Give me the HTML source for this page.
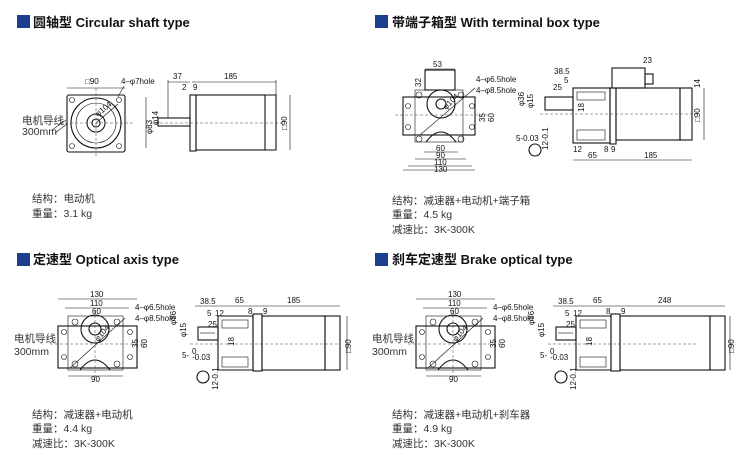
<!DOCTYPE html>
<html><head><meta charset="utf-8"><style>
body{margin:0;background:#fff}
svg{display:block}
.t{font-family:"Liberation Sans","Noto Sans CJK SC",sans-serif;font-weight:bold;font-size:13px;fill:#111}
.d{font-family:"Liberation Sans",sans-serif;font-size:8px;fill:#111}
.i{font-family:"Liberation Sans","Noto Sans CJK SC",sans-serif;font-size:10.5px;fill:#333}
.k{stroke:#111;stroke-width:1.1;fill:none}
.g{stroke:#111;stroke-width:.6;fill:none}
.c{stroke:#444;stroke-width:.5;stroke-dasharray:3 2;fill:none}
</style></head><body>
<svg width="750" height="459" viewBox="0 0 750 459" xmlns="http://www.w3.org/2000/svg">
<defs>
<g id="front">
 <!-- geared front view: plate -->
 <rect x="58" y="326" width="79" height="42" class="k"/>
 <rect x="68" y="316" width="55" height="54" class="g"/>
 <circle cx="95" cy="329" r="14" class="k"/><circle cx="95" cy="329" r="6" class="k"/>
 <path d="M80,370 Q95,350 110,370" class="k"/>
 <circle cx="75" cy="322" r="3" class="g"/><circle cx="117" cy="322" r="3" class="g"/>
 <circle cx="75" cy="364" r="3" class="g"/><circle cx="117" cy="364" r="3" class="g"/>
 <circle cx="64" cy="332" r="2.5" class="g"/><circle cx="130" cy="332" r="2.5" class="g"/>
 <circle cx="64" cy="357" r="2.5" class="g"/><circle cx="130" cy="357" r="2.5" class="g"/>
 <line x1="50" y1="344" x2="145" y2="344" class="c"/>
 <line x1="95" y1="310" x2="95" y2="380" class="c"/>
 <line x1="70" y1="368" x2="125" y2="318" class="g"/>
 <text class="d" x="98" y="342" transform="rotate(-50 98 342)">φ104</text>
</g>
<g id="side">
 <rect x="198" y="327" width="20" height="13" class="k"/>
 <line x1="200" y1="333" x2="215" y2="333" class="g"/>
 <path d="M218,316 H253 V370 H218 Z" class="k"/>
 <rect x="222" y="320" width="26" height="8" class="g"/>
 <rect x="222" y="357" width="26" height="10" class="g"/>
 <rect x="253" y="314" width="9" height="57" class="k"/>
 <line x1="190" y1="344" x2="340" y2="344" class="c"/>
 <circle cx="203" cy="377" r="6" class="k"/>
 <text class="d" x="176" y="325" transform="rotate(-90 176 325)">φ36</text>
 <text class="d" x="186" y="337" transform="rotate(-90 186 337)">φ15</text>
 <text class="d" x="234" y="346" transform="rotate(-90 234 346)">18</text>
 <text class="d" x="182" y="358">5-</text><text class="d" x="192" y="354" font-size="6">0</text><text class="d" x="192" y="360" font-size="6">-0.03</text>
 <text class="d" x="218" y="390" transform="rotate(-90 218 390)">12-0.1</text>
 <text class="d" x="200" y="304">38.5</text><text class="d" x="207" y="316">5</text><text class="d" x="215" y="316">12</text>
 <text class="d" x="208" y="327">25</text>
 <line x1="195" y1="306" x2="253" y2="306" class="g"/>
</g>
</defs>

<!-- ===== Q1 ===== -->
<rect x="17" y="15" width="13" height="13" fill="#1b3f8c"/>
<text class="t" x="33" y="27">圆轴型 Circular shaft type</text>
<rect x="67" y="95" width="58" height="57" class="k" rx="2"/>
<circle cx="96" cy="123" r="25" class="k"/><circle cx="96" cy="123" r="20" class="g"/>
<circle cx="96" cy="123" r="9" class="k"/><circle cx="96" cy="123" r="4" class="k"/>
<circle cx="72" cy="100" r="2.5" class="g"/><circle cx="119" cy="100" r="2.5" class="g"/>
<circle cx="72" cy="146" r="2.5" class="g"/><circle cx="119" cy="146" r="2.5" class="g"/>
<line x1="60" y1="123" x2="135" y2="123" class="c"/><line x1="96" y1="88" x2="96" y2="158" class="c"/>
<line x1="96" y1="123" x2="118" y2="104" class="g"/>
<text class="d" x="98" y="117" transform="rotate(-40 98 117)">φ104</text>
<line x1="67" y1="88" x2="125" y2="88" class="g"/><text class="d" x="85" y="84">□90</text>
<text class="d" x="121" y="84">4–φ7hole</text><line x1="118" y1="97" x2="124" y2="86" class="g"/>
<text class="i" x="22" y="124" font-size="9.5">电机导线</text><text class="i" x="22" y="135" font-size="9.5">300mm</text>
<path d="M52,130 L66,120 M55,133 L67,124" class="g"/>
<!-- side -->
<rect x="158" y="118" width="32" height="8" class="k"/>
<rect x="190" y="95" width="6" height="56" class="k"/>
<rect x="196" y="95" width="69" height="55" class="k"/>
<path d="M265,95 H276 V150 H265" class="k"/>
<line x1="150" y1="123" x2="285" y2="123" class="c"/>
<line x1="146" y1="97" x2="146" y2="148" class="g"/><text class="d" x="152" y="134" transform="rotate(-90 152 134)">φ83</text>
<text class="d" x="158" y="125" transform="rotate(-90 158 125)">φ14</text>
<line x1="290" y1="95" x2="290" y2="150" class="g"/><text class="d" x="287" y="130" transform="rotate(-90 287 130)">□90</text>
<line x1="168" y1="82" x2="190" y2="82" class="g"/><text class="d" x="173" y="79">37</text>
<line x1="192" y1="82" x2="276" y2="82" class="g"/><text class="d" x="224" y="79">185</text>
<text class="d" x="182" y="90">2</text><text class="d" x="193" y="90">9</text>
<line x1="168" y1="80" x2="168" y2="118" class="g"/><line x1="276" y1="80" x2="276" y2="95" class="g"/>
<text class="i" x="32" y="202">结构：电动机</text>
<text class="i" x="32" y="217">重量：3.1 kg</text>

<!-- ===== Q2 ===== -->
<rect x="375" y="15" width="13" height="13" fill="#1b3f8c"/>
<text class="t" x="392" y="27">带端子箱型 With terminal box type</text>
<rect x="425" y="70" width="30" height="20" class="k"/>
<rect x="403" y="97" width="72" height="38" class="k"/>
<rect x="415" y="90" width="48" height="52" class="g"/>
<circle cx="441" cy="104" r="14" class="k"/><circle cx="441" cy="104" r="5" class="k"/>
<path d="M426,142 Q441,122 456,142" class="k"/>
<circle cx="419" cy="95" r="3" class="g"/><circle cx="461" cy="95" r="3" class="g"/>
<circle cx="419" cy="139" r="3" class="g"/><circle cx="461" cy="139" r="3" class="g"/>
<circle cx="408" cy="106" r="2.5" class="g"/><circle cx="472" cy="106" r="2.5" class="g"/>
<circle cx="408" cy="127" r="2.5" class="g"/><circle cx="472" cy="127" r="2.5" class="g"/>
<line x1="395" y1="115" x2="490" y2="115" class="c"/>
<line x1="420" y1="135" x2="475" y2="88" class="g"/>
<text class="d" x="446" y="110" transform="rotate(-45 446 110)">φ104</text>
<text class="d" x="433" y="67">53</text><line x1="425" y1="69" x2="455" y2="69" class="g"/>
<text class="d" x="421" y="87" transform="rotate(-90 421 87)">32</text>
<text class="d" x="476" y="82">4–φ6.5hole</text><text class="d" x="476" y="93">4–φ8.5hole</text>
<text class="d" x="485" y="122" transform="rotate(-90 485 122)">35</text>
<text class="d" x="494" y="122" transform="rotate(-90 494 122)">60</text>
<text class="d" x="436" y="151">60</text><text class="d" x="436" y="158">90</text><text class="d" x="434" y="165">110</text><text class="d" x="434" y="172">130</text>
<line x1="424" y1="152" x2="458" y2="152" class="g"/><line x1="415" y1="159" x2="466" y2="159" class="g"/>
<line x1="408" y1="166" x2="472" y2="166" class="g"/><line x1="403" y1="170" x2="475" y2="170" class="g"/>
<!-- side -->
<rect x="545" y="97" width="28" height="13" class="k"/>
<rect x="573" y="88" width="37" height="55" class="k"/>
<rect x="577" y="92" width="28" height="8" class="g"/><rect x="577" y="130" width="28" height="10" class="g"/>
<rect x="610" y="88" width="6" height="56" class="k"/>
<rect x="616" y="88" width="64" height="52" class="k"/>
<rect x="680" y="88" width="12" height="52" class="k"/>
<rect x="612" y="68" width="33" height="20" class="k"/><rect x="645" y="74" width="8" height="10" class="k"/>
<line x1="540" y1="114" x2="700" y2="114" class="c"/>
<circle cx="535" cy="150" r="6" class="k"/>
<text class="d" x="524" y="106" transform="rotate(-90 524 106)">φ36</text>
<text class="d" x="533" y="108" transform="rotate(-90 533 108)">φ15</text>
<text class="d" x="584" y="112" transform="rotate(-90 584 112)">18</text>
<text class="d" x="516" y="141">5-0.03</text><text class="d" x="548" y="150" transform="rotate(-90 548 150)">12-0.1</text>
<text class="d" x="554" y="74">38.5</text><text class="d" x="564" y="83">5</text><text class="d" x="553" y="90">25</text>
<text class="d" x="643" y="63">23</text><text class="d" x="700" y="88" transform="rotate(-90 700 88)">14</text>
<text class="d" x="700" y="122" transform="rotate(-90 700 122)">□90</text>
<line x1="704" y1="88" x2="704" y2="140" class="g"/>
<text class="d" x="573" y="152">12</text><text class="d" x="604" y="152">8</text><text class="d" x="611" y="152">9</text>
<line x1="573" y1="160" x2="610" y2="160" class="g"/><line x1="610" y1="160" x2="692" y2="160" class="g"/>
<text class="d" x="588" y="158">65</text><text class="d" x="644" y="158">185</text>
<text class="i" x="392" y="204">结构：减速器+电动机+端子箱</text>
<text class="i" x="392" y="218">重量：4.5 kg</text>
<text class="i" x="392" y="233">减速比：3K-300K</text>

<!-- ===== Q3 ===== -->
<rect x="17" y="253" width="13" height="13" fill="#1b3f8c"/>
<text class="t" x="33" y="264">定速型 Optical axis type</text>
<use href="#front"/>
<use href="#side"/>
<rect x="262" y="316" width="63" height="54" class="k"/>
<rect x="325" y="316" width="15" height="54" class="k"/>
<text class="d" x="351" y="353" transform="rotate(-90 351 353)">□90</text>
<line x1="347" y1="316" x2="347" y2="370" class="g"/>
<text class="d" x="90" y="297">130</text><text class="d" x="90" y="306">110</text><text class="d" x="92" y="314">60</text>
<line x1="58" y1="299" x2="137" y2="299" class="g"/><line x1="65" y1="308" x2="129" y2="308" class="g"/>
<text class="d" x="135" y="310">4–φ6.5hole</text><text class="d" x="135" y="321">4–φ8.5hole</text>
<text class="d" x="138" y="348" transform="rotate(-90 138 348)">35</text><text class="d" x="147" y="348" transform="rotate(-90 147 348)">60</text>
<text class="d" x="91" y="382">90</text><line x1="68" y1="376" x2="123" y2="376" class="g"/>
<text class="i" x="14" y="342" font-size="9.5">电机导线</text><text class="i" x="14" y="355" font-size="9.5">300mm</text>
<text class="d" x="235" y="303">65</text><text class="d" x="287" y="303">185</text>
<text class="d" x="248" y="314">8</text><text class="d" x="263" y="314">9</text>
<line x1="253" y1="306" x2="340" y2="306" class="g"/>
<text class="i" x="32" y="418">结构：减速器+电动机</text>
<text class="i" x="32" y="432">重量：4.4 kg</text>
<text class="i" x="32" y="447">减速比：3K-300K</text>

<!-- ===== Q4 ===== -->
<rect x="375" y="253" width="13" height="13" fill="#1b3f8c"/>
<text class="t" x="392" y="264">刹车定速型 Brake optical type</text>
<g transform="translate(358,0)">
<use href="#front"/>
<use href="#side"/>
<rect x="262" y="316" width="90" height="54" class="k"/>
<rect x="352" y="316" width="15" height="54" class="k"/>
<text class="d" x="376" y="353" transform="rotate(-90 376 353)">□90</text>
<line x1="372" y1="316" x2="372" y2="370" class="g"/>
<text class="d" x="90" y="297">130</text><text class="d" x="90" y="306">110</text><text class="d" x="92" y="314">60</text>
<line x1="58" y1="299" x2="137" y2="299" class="g"/><line x1="65" y1="308" x2="129" y2="308" class="g"/>
<text class="d" x="135" y="310">4–φ6.5hole</text><text class="d" x="135" y="321">4–φ8.5hole</text>
<text class="d" x="138" y="348" transform="rotate(-90 138 348)">35</text><text class="d" x="147" y="348" transform="rotate(-90 147 348)">60</text>
<text class="d" x="91" y="382">90</text><line x1="68" y1="376" x2="123" y2="376" class="g"/>
<text class="i" x="14" y="342" font-size="9.5">电机导线</text><text class="i" x="14" y="355" font-size="9.5">300mm</text>
<text class="d" x="235" y="303">65</text><text class="d" x="300" y="303">248</text>
<text class="d" x="248" y="314">8</text><text class="d" x="263" y="314">9</text>
<line x1="253" y1="306" x2="367" y2="306" class="g"/>
</g>
<text class="i" x="392" y="418">结构：减速器+电动机+刹车器</text>
<text class="i" x="392" y="432">重量：4.9 kg</text>
<text class="i" x="392" y="447">减速比：3K-300K</text>
</svg>
</body></html>
